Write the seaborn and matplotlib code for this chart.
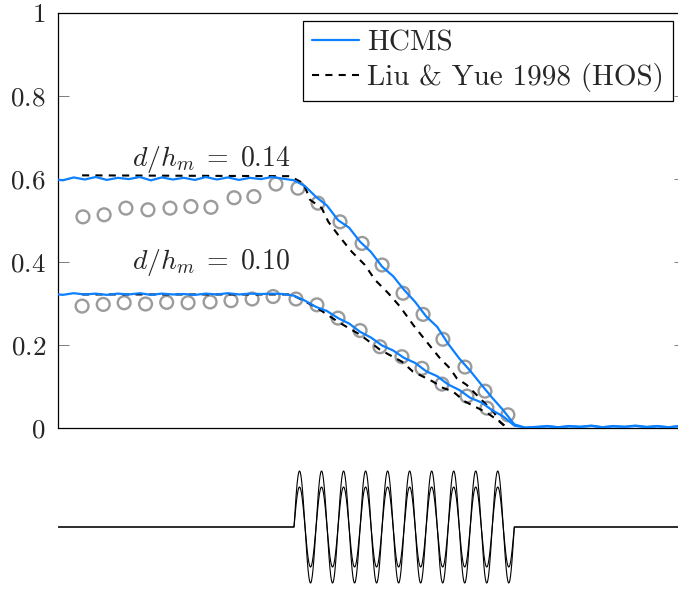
import numpy as np
import pandas as pd
import matplotlib
matplotlib.use("Agg")
import matplotlib.pyplot as plt
import seaborn as sns

sns.set_style("ticks")
plt.rcParams["mathtext.fontset"] = "cm"
plt.rcParams["font.family"] = ["cmr10", "DejaVu Serif"]
plt.rcParams["axes.formatter.use_mathtext"] = True

# ---------------- data ----------------
# horizontal position in ripple wavelengths (patch spans 0..10)
x_hcms = np.arange(-11.0, 18.5, 0.5)

hcms_014 = [0.600, 0.596, 0.603, 0.598, 0.604, 0.597, 0.602, 0.599, 0.604, 0.596, 0.603,
            0.598, 0.602, 0.597, 0.604, 0.598, 0.603, 0.597, 0.602, 0.599, 0.604, 0.600,
            0.596, 0.582, 0.556, 0.535, 0.500, 0.482, 0.448, 0.423, 0.388, 0.365, 0.332,
            0.303, 0.268, 0.243, 0.202, 0.167, 0.137, 0.104, 0.072, 0.042, 0.008, 0.000,
            0.002, 0.004, 0.001, 0.004, 0.002, 0.005, 0.001, 0.004, 0.002, 0.005, 0.002,
            0.004, 0.001, 0.004, 0.002]

hcms_010 = [0.323, 0.320, 0.324, 0.321, 0.323, 0.320, 0.323, 0.321, 0.324, 0.320, 0.323,
            0.321, 0.322, 0.320, 0.323, 0.321, 0.324, 0.321, 0.323, 0.322, 0.323, 0.322,
            0.318, 0.306, 0.291, 0.281, 0.264, 0.251, 0.231, 0.217, 0.198, 0.186, 0.168,
            0.156, 0.136, 0.124, 0.104, 0.091, 0.072, 0.061, 0.042, 0.027, 0.005, 0.000,
            0.001, 0.003, 0.001, 0.003, 0.002, 0.004, 0.001, 0.003, 0.002, 0.004, 0.001,
            0.003, 0.001, 0.003, 0.002]

# Liu & Yue (1998), HOS
x_hos_014 = [-9.62, -0.18, 0.42, 0.58, 0.73, 1.26, 1.56, 2.01, 2.62, 3.22, 3.68, 4.28,
             4.81, 5.42, 6.02, 6.63, 7.08, 7.39, 7.84, 8.14, 8.59, 9.05, 9.35, 9.65]
hos_014 = [0.608, 0.606, 0.589, 0.569, 0.549, 0.529, 0.496, 0.464, 0.424, 0.392, 0.356,
           0.324, 0.292, 0.247, 0.207, 0.167, 0.143, 0.119, 0.103, 0.087, 0.063, 0.039,
           0.014, 0.000]

x_hos_010 = [-9.62, -0.18, 0.14, 1.04, 2.00, 3.00, 3.90, 4.90, 5.40, 5.86, 6.31, 6.76,
             7.22, 7.76, 8.76, 9.35, 9.67]
hos_010 = [0.321, 0.321, 0.314, 0.289, 0.255, 0.224, 0.188, 0.159, 0.135, 0.123, 0.111,
           0.096, 0.087, 0.063, 0.036, 0.014, 0.000]

# measurements (open circles)
x_exp_014 = [-9.58, -8.62, -7.63, -6.63, -5.63, -4.68, -3.77, -2.72, -1.82, -0.82, 0.18,
             1.09, 2.09, 3.09, 4.00, 4.95, 5.86, 6.76, 7.76, 8.67, 9.71]
exp_014 = [0.508, 0.513, 0.529, 0.525, 0.529, 0.533, 0.531, 0.554, 0.557, 0.587, 0.577,
           0.541, 0.496, 0.444, 0.392, 0.324, 0.273, 0.213, 0.146, 0.088, 0.031]

x_exp_010 = [-9.62, -8.66, -7.71, -6.74, -5.78, -4.81, -3.81, -2.86, -1.90, -0.95, 0.09,
             1.04, 2.00, 3.00, 3.90, 4.90, 5.81, 6.72, 7.85, 8.76]
exp_010 = [0.293, 0.297, 0.301, 0.298, 0.302, 0.301, 0.303, 0.306, 0.310, 0.316, 0.310,
           0.296, 0.264, 0.234, 0.195, 0.171, 0.143, 0.105, 0.076, 0.047]

# ripple bed
ripple_amps = [0.14, 0.10]
n_ripples = 10

BLUE = "#0d80ff"
GREY = "#9b9b9b"
XLIM = (-10.7, 17.75)
DASH = (0, (3.4, 3.0))

# ---------------- figure ----------------
fig = plt.figure(figsize=(6.78, 5.89), dpi=100)
ax = fig.add_axes([0.086, 0.2739, 0.9243, 0.7046])
axb = fig.add_axes([0.086, 0.0, 0.9243, 0.2275])

for yv in (hcms_014, hcms_010):
    sns.lineplot(x=x_hcms, y=yv, ax=ax, color=BLUE, lw=1.6, sort=False,
                 estimator=None, zorder=3)
for xv, yv in ((x_hos_014, hos_014), (x_hos_010, hos_010)):
    sns.lineplot(x=xv, y=yv, ax=ax, color="black", lw=1.5, sort=False,
                 estimator=None, linestyle=DASH, zorder=2)
for xv, yv in ((x_exp_014, exp_014), (x_exp_010, exp_010)):
    sns.scatterplot(x=xv, y=yv, ax=ax, marker="o", s=85, facecolor="none",
                    edgecolor=GREY, linewidth=1.7, zorder=1)

ax.set_xlim(*XLIM)
ax.set_ylim(0, 1)
ax.set_yticks([0, 0.2, 0.4, 0.6, 0.8, 1.0])
ax.set_yticklabels([r"$0$", r"$0.2$", r"$0.4$", r"$0.6$", r"$0.8$", r"$1$"])
ax.set_xticks([])
ax.tick_params(axis="y", direction="in", length=8, width=0.6, color="#666666",
               labelsize=19.5, pad=9, right=True, left=True)
ax.spines["right"].set_visible(False)
for s in ("left", "top", "bottom"):
    ax.spines[s].set_linewidth(0.9)
    ax.spines[s].set_color("black")

ax.text(-3.74, 0.631, r"$d/h_m \;=\; 0.14$", ha="center", va="baseline", fontsize=20)
ax.text(-3.74, 0.382, r"$d/h_m \;=\; 0.10$", ha="center", va="baseline", fontsize=20)

handles = [plt.Line2D([], [], color=BLUE, lw=1.6),
           plt.Line2D([], [], color="black", lw=1.5, linestyle=DASH)]
labels = ["HCMS", "Liu & Yue 1998 (HOS)"]
leg = ax.legend(handles, labels, loc="upper right",
                bbox_to_anchor=(673 / 678, 1 - 21 / 589),
                bbox_transform=fig.transFigure, borderaxespad=0,
                prop={"family": "cmr10", "size": 21},
                handlelength=1.6, handletextpad=0.3,
                labelspacing=0.25, borderpad=0.3, fancybox=False,
                framealpha=1, edgecolor="black")
leg.get_frame().set_linewidth(0.9)

# ripple bed below
xb = np.linspace(XLIM[0], XLIM[1], 4000)
on_patch = (xb >= 0) & (xb <= n_ripples)
for a in ripple_amps:
    yb = np.where(on_patch, a * np.sin(2 * np.pi * xb), 0.0)
    sns.lineplot(x=xb, y=yb, ax=axb, color="black", lw=0.8, sort=False,
                 estimator=None)
axb.set_xlim(*XLIM)
axb.set_ylim(-0.155, 0.18)
axb.axis("off")

fig.savefig("out.png", dpi=100)
